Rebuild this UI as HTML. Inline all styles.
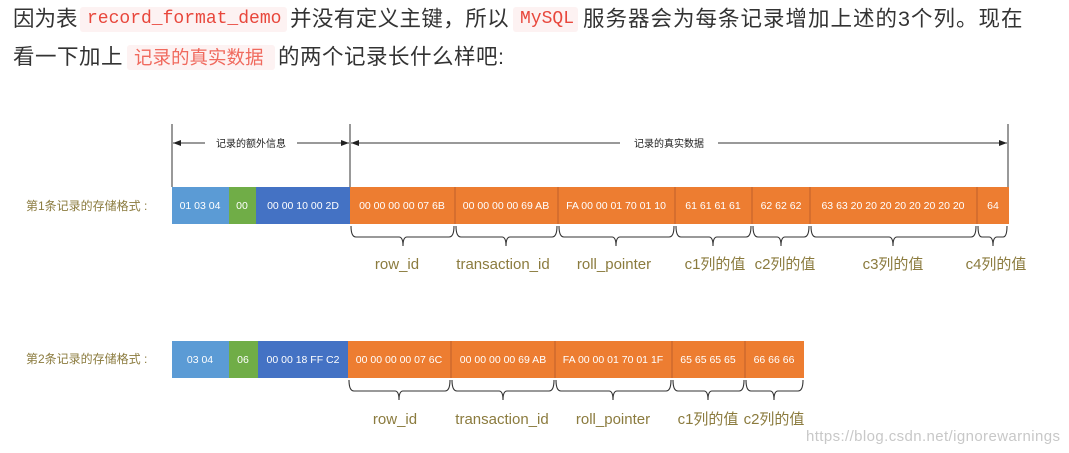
<!DOCTYPE html>
<html><head><meta charset="utf-8"><style>
body{margin:0;width:1069px;height:453px;background:#fff;overflow:hidden;position:relative;font-family:"Liberation Sans","Noto Sans CJK SC",sans-serif}
.t{position:absolute;white-space:nowrap;color:#333;font-size:21.5px;line-height:24px}
.c{position:absolute;background:#fdf2f2;border-radius:3px;height:25px}
.m{position:absolute;white-space:nowrap;color:#e8473c;font-family:"Liberation Mono",monospace;font-size:18px;line-height:24px}
</style></head><body>
<div class="t" style="left:13px;top:7px">因为表</div>
<div class="c" style="left:80px;top:7px;width:207px"></div>
<div class="m" style="left:87px;top:7px">record_format_demo</div>
<div class="t" style="left:290px;top:7px;letter-spacing:0.4px">并没有定义主键，所以</div>
<div class="c" style="left:513px;top:7px;width:65px"></div>
<div class="m" style="left:520px;top:7px">MySQL</div>
<div class="t" style="left:583px;top:7px;letter-spacing:1px">服务器会为每条记录增加上述的3个列。现在</div>
<div class="t" style="left:13px;top:45px;letter-spacing:0.5px">看一下加上</div>
<div class="c" style="left:127px;top:45px;width:148px"></div>
<div class="m" style="left:134px;top:46px;font-family:'Liberation Sans','Noto Sans CJK SC',sans-serif;font-size:18.5px;color:#f06a5e">记录的真实数据</div>
<div class="t" style="left:278px;top:45px;letter-spacing:0.5px">的两个记录长什么样吧:</div>
<svg width="1069" height="453" style="position:absolute;left:0;top:0" font-family="Liberation Sans, Noto Sans CJK SC, sans-serif">
<defs><marker id="a" markerWidth="8" markerHeight="6" refX="8" refY="3" orient="auto-start-reverse"><path d="M0,0L8,3L0,6z" fill="#222"/></marker></defs>
<g stroke="#333" stroke-width="1">
<line x1="172" y1="124" x2="172" y2="187"/><line x1="350" y1="124" x2="350" y2="187"/><line x1="1008" y1="124" x2="1008" y2="187"/>
<line x1="173" y1="143" x2="205" y2="143" marker-start="url(#a)"/><line x1="297" y1="143" x2="349" y2="143" marker-end="url(#a)"/>
<line x1="351" y1="143" x2="620" y2="143" marker-start="url(#a)"/><line x1="718" y1="143" x2="1007" y2="143" marker-end="url(#a)"/>
</g>
<g font-size="10" fill="#222" text-anchor="middle"><text x="251" y="147">记录的额外信息</text><text x="669" y="147">记录的真实数据</text></g>
<g font-size="12" fill="#8b7b3e"><text x="26" y="210">第1条记录的存储格式 :</text><text x="26" y="363">第2条记录的存储格式 :</text></g>
<g>
<rect x="172" y="187" width="57" height="37" fill="#5b9bd5"/><rect x="229" y="187" width="27" height="37" fill="#70ad47"/><rect x="256" y="187" width="94" height="37" fill="#4472c4"/>
<rect x="350" y="187" width="659" height="37" fill="#ed7d31"/>
<rect x="172" y="341" width="57" height="37" fill="#5b9bd5"/><rect x="229" y="341" width="29" height="37" fill="#70ad47"/><rect x="258" y="341" width="90" height="37" fill="#4472c4"/>
<rect x="348" y="341" width="456" height="37" fill="#ed7d31"/>
</g>
<g stroke="#c0602a" stroke-width="1">
<line x1="455" y1="187" x2="455" y2="224"/><line x1="558" y1="187" x2="558" y2="224"/><line x1="675" y1="187" x2="675" y2="224"/><line x1="752" y1="187" x2="752" y2="224"/><line x1="810" y1="187" x2="810" y2="224"/><line x1="977" y1="187" x2="977" y2="224"/>
<line x1="451" y1="341" x2="451" y2="378"/><line x1="555" y1="341" x2="555" y2="378"/><line x1="672" y1="341" x2="672" y2="378"/><line x1="745" y1="341" x2="745" y2="378"/>
</g>
<g font-size="10.5" fill="#fff" text-anchor="middle">
<text x="200" y="209">01 03 04</text><text x="242" y="209">00</text><text x="303" y="209">00 00 10 00 2D</text>
<text x="402" y="209">00 00 00 00 07 6B</text><text x="506" y="209">00 00 00 00 69 AB</text><text x="616" y="209">FA 00 00 01 70 01 10</text><text x="713" y="209">61 61 61 61</text><text x="781" y="209">62 62 62</text><text x="893" y="209">63 63 20 20 20 20 20 20 20 20</text><text x="993" y="209">64</text>
<text x="200" y="363">03 04</text><text x="243" y="363">06</text><text x="303" y="363">00 00 18 FF C2</text>
<text x="399" y="363">00 00 00 00 07 6C</text><text x="503" y="363">00 00 00 00 69 AB</text><text x="613" y="363">FA 00 00 01 70 01 1F</text><text x="708" y="363">65 65 65 65</text><text x="774" y="363">66 66 66</text>
</g>
<g fill="none" stroke="#333" stroke-width="1.1">
<path d="M351,226Q351,237 356,237L399,237Q403,237 403,246Q403,237 407,237L449,237Q454,237 454,226"/>
<path d="M456,226Q456,237 461,237L502,237Q506,237 506,246Q506,237 510,237L552,237Q557,237 557,226"/>
<path d="M559,226Q559,237 564,237L612,237Q616,237 616,246Q616,237 620,237L669,237Q674,237 674,226"/>
<path d="M676,226Q676,237 681,237L709,237Q713,237 713,246Q713,237 717,237L746,237Q751,237 751,226"/>
<path d="M753,226Q753,237 758,237L777,237Q781,237 781,246Q781,237 785,237L804,237Q809,237 809,226"/>
<path d="M811,226Q811,237 816,237L889,237Q893,237 893,246Q893,237 897,237L971,237Q976,237 976,226"/>
<path d="M978,226Q978,237 982,237L989,237Q993,237 993,246Q993,237 997,237L1003,237Q1007,237 1007,226"/>
<path d="M349,380Q349,391 354,391L395,391Q399,391 399,400Q399,391 403,391L445,391Q450,391 450,380"/>
<path d="M452,380Q452,391 457,391L499,391Q503,391 503,400Q503,391 507,391L549,391Q554,391 554,380"/>
<path d="M556,380Q556,391 561,391L609,391Q613,391 613,400Q613,391 617,391L666,391Q671,391 671,380"/>
<path d="M673,380Q673,391 678,391L704,391Q708,391 708,400Q708,391 712,391L739,391Q744,391 744,380"/>
<path d="M746,380Q746,391 751,391L770,391Q774,391 774,400Q774,391 778,391L798,391Q803,391 803,380"/>
</g>
<g font-size="15" fill="#8b7b3e" text-anchor="middle">
<text x="397" y="269">row_id</text><text x="503" y="269">transaction_id</text><text x="614" y="269">roll_pointer</text><text x="715" y="269">c1列的值</text><text x="785" y="269">c2列的值</text><text x="893" y="269">c3列的值</text><text x="996" y="269">c4列的值</text>
<text x="395" y="424">row_id</text><text x="502" y="424">transaction_id</text><text x="613" y="424">roll_pointer</text><text x="708" y="424">c1列的值</text><text x="774" y="424">c2列的值</text>
</g>
<text x="806" y="441" font-size="15" fill="#c8c8c8" textLength="254">https://blog.csdn.net/ignorewarnings</text>
</svg>
</body></html>
